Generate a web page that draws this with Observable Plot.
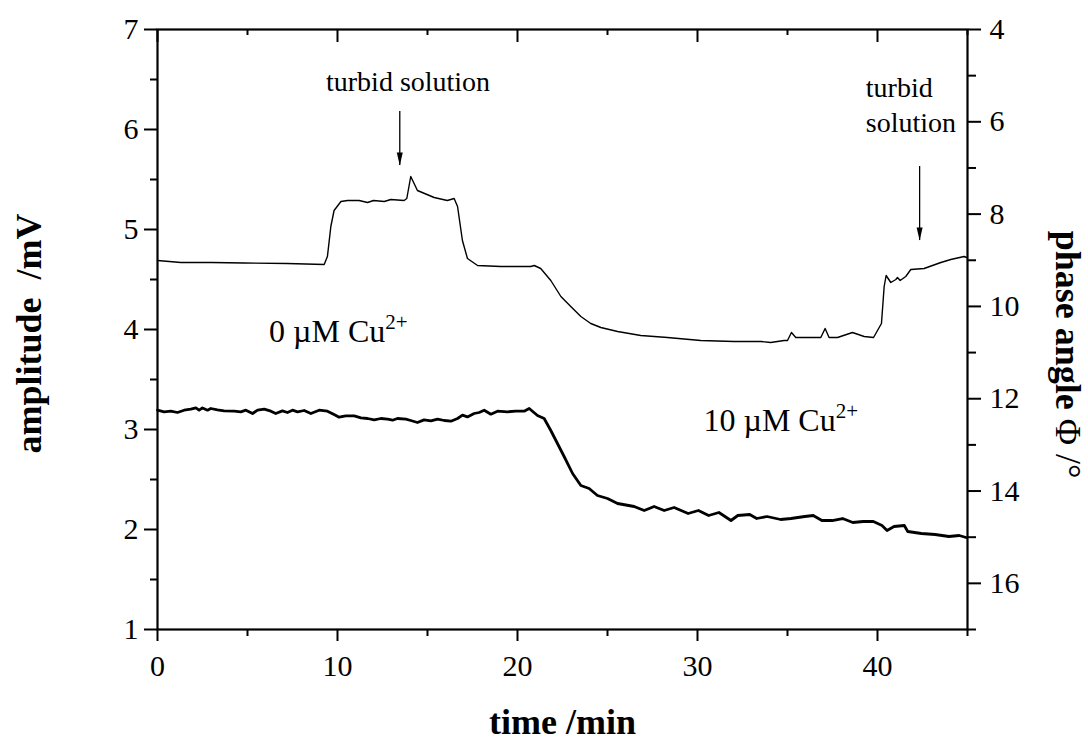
<!DOCTYPE html>
<html>
<head>
<meta charset="utf-8">
<script src="https://cdn.jsdelivr.net/npm/d3@7"></script>
<script src="https://cdn.jsdelivr.net/npm/@observablehq/plot@0.6"></script>
<style>
  html, body { margin: 0; padding: 0; background: #fff; }
</style>
</head>
<body>
<div id="chart"></div>
<script>
// ---- data ----
// 0 µM Cu2+ (thin line): time (min) and amplitude (mV)
const time0 = [0, 1.3, 3, 4.8, 7.2, 9.26, 9.44, 9.63, 9.81, 10.19, 10.56, 11.2, 11.67, 12.0, 12.6, 12.96, 13.7, 13.85,
  14.07, 14.44, 15.37, 16.1, 16.48, 16.67, 16.94, 17.22, 17.78, 19.07, 20.74, 20.93, 21.29, 21.85, 22.41, 22.96,
  23.52, 24.07, 24.63, 25.56, 26.85, 28.33, 30.18, 32.03, 33.52, 34.07, 34.81, 35.0, 35.22, 35.46, 36.11, 36.85,
  37.09, 37.31, 37.78, 38.61, 39.26, 39.78, 40.0, 40.22, 40.37, 40.48, 40.74, 41.02, 41.11, 41.26, 41.57, 41.85,
  42.59, 43.52, 44.07, 44.81, 44.95];
const amp0 = [4.69, 4.67, 4.67, 4.665, 4.66, 4.65, 4.73, 5.03, 5.19, 5.28, 5.29, 5.29, 5.27, 5.29, 5.28, 5.30, 5.29, 5.31,
  5.53, 5.39, 5.32, 5.29, 5.31, 5.23, 4.89, 4.71, 4.64, 4.63, 4.63, 4.64, 4.61, 4.49, 4.33, 4.23,
  4.13, 4.06, 4.02, 3.98, 3.94, 3.92, 3.89, 3.88, 3.88, 3.87, 3.89, 3.89, 3.97, 3.92, 3.92, 3.92,
  4.01, 3.92, 3.92, 3.97, 3.93, 3.92, 3.99, 4.06, 4.43, 4.54, 4.47, 4.50, 4.52, 4.49, 4.53, 4.60,
  4.61, 4.67, 4.70, 4.73, 4.72];

// 10 µM Cu2+ (thick line)
const time10 = [0, 0.37, 0.74, 1.11, 1.48, 1.85, 2.13, 2.31, 2.5, 2.78, 2.96, 3.33, 3.7, 4.26, 4.63, 4.91, 5.28, 5.56,
  5.93, 6.3, 6.57, 6.94, 7.22, 7.5, 7.78, 8.15, 8.52, 8.98, 9.44, 9.81, 10.09, 10.46, 10.93, 11.3, 11.67, 12.04,
  12.41, 12.78, 13.06, 13.33, 13.8, 14.07, 14.44, 14.81, 15.19, 15.56, 15.93, 16.3, 16.67, 16.94, 17.22, 17.59,
  17.87, 18.15, 18.52, 18.89, 19.44, 19.91, 20.37, 20.65, 21.11, 21.48, 21.85,
  22.59, 23.06, 23.52, 23.98, 24.44, 25.0, 25.56, 26.48, 27.04, 27.59, 28.15, 28.7, 29.48, 30.05, 30.62, 31.19,
  31.86, 32.24, 32.9, 33.29, 33.86, 34.62, 35.19, 35.96, 36.43, 36.91, 37.48, 38.06, 38.63, 39.2, 39.77, 40.25,
  40.53, 40.92, 41.49, 41.68, 42.44, 43.2, 43.97, 44.54, 44.92];
const amp10 = [3.193, 3.177, 3.183, 3.17, 3.193, 3.203, 3.216, 3.193, 3.216, 3.193, 3.21, 3.196, 3.186, 3.183, 3.177,
  3.193, 3.16, 3.193, 3.203, 3.183, 3.16, 3.186, 3.17, 3.193, 3.177, 3.19, 3.16, 3.193, 3.183, 3.15, 3.123, 3.136,
  3.136, 3.116, 3.11, 3.096, 3.11, 3.103, 3.093, 3.11, 3.103, 3.09, 3.07, 3.096, 3.086, 3.103, 3.09, 3.083,
  3.11, 3.143, 3.126, 3.16, 3.17, 3.193, 3.153, 3.183, 3.177, 3.183, 3.183, 3.21, 3.14, 3.11, 2.99,
  2.73, 2.56, 2.44, 2.41, 2.34, 2.31, 2.26, 2.23, 2.19, 2.23, 2.19, 2.22, 2.16, 2.19, 2.14, 2.17,
  2.09, 2.14, 2.15, 2.11, 2.13, 2.10, 2.11, 2.13, 2.14, 2.09, 2.09, 2.11, 2.07, 2.08, 2.08, 2.04,
  1.99, 2.03, 2.04, 1.98, 1.96, 1.95, 1.93, 1.94, 1.92];

// axes
const xMajor = [0, 10, 20, 30, 40];
const xMinor = [5, 15, 25, 35, 45];
const yMajor = [1, 2, 3, 4, 5, 6, 7];
const yMinor = [1.5, 2.5, 3.5, 4.5, 5.5, 6.5];
const phaseMajor = [4, 6, 8, 10, 12, 14, 16];
const phaseMinor = [5, 7, 9, 11, 13, 15, 17];
const phaseDomain = [4, 17];

// annotations
const seriesLabels = ["0 µM Cu", "10 µM Cu"];
const seriesLabelT = [6.2, 30.33];
const seriesLabelV = [3.88, 2.99];
const noteText = ["turbid solution", "turbid\nsolution"];
const noteT = [13.92, 39.35];
const noteV = [6.39, 5.98];
const arrowT = [13.46, 42.34];
const arrowFrom = [6.18, 5.63];
const arrowTo = [5.64, 4.89];

// ---- build tables ----
const line0 = time0.map((t, i) => ({t, v: amp0[i]}));
const line10 = time10.map((t, i) => ({t, v: amp10[i]}));
const labels = seriesLabels.map((s, i) => ({s, t: seriesLabelT[i], v: seriesLabelV[i]}));
const arrows = arrowT.map((t, i) => ({t, v1: arrowFrom[i], v2: arrowTo[i]}));

// phase (right axis) expressed on the amplitude scale: 4 at top (7), 17 at bottom (1)
const phaseToAmp = p => 7 - (p - phaseDomain[0]) * 6 / (phaseDomain[1] - phaseDomain[0]);
const ampToPhase = a => phaseDomain[0] + (7 - a) * (phaseDomain[1] - phaseDomain[0]) / 6;

const headSymbol = {
  draw(context) {
    context.moveTo(0, 0);
    context.lineTo(-3, -13);
    context.lineTo(3, -13);
    context.closePath();
  }
};

const FONT = "'Liberation Serif', 'Times New Roman', Times, serif";

const chart = Plot.plot({
  width: 1088,
  height: 742,
  marginLeft: 157,
  marginRight: 121,
  marginTop: 29,
  marginBottom: 113,
  x: {domain: [0, 45]},
  y: {domain: [1, 7]},
  style: {fontFamily: FONT, fontSize: "30px", color: "black", background: "white"},
  marks: [
    // bottom axis
    Plot.axisX({anchor: "bottom", ticks: xMajor, tickSize: 12, tickPadding: 13, fontSize: 30, strokeWidth: 2, label: null, tickFormat: d => String(d)}),
    Plot.axisX({anchor: "bottom", ticks: xMinor, tickSize: 7, fontSize: 30, strokeWidth: 2, label: null, tickFormat: () => ""}),
    // top inward ticks
    Plot.tickX(xMajor, {x: d => d, insetBottom: 587, strokeWidth: 2}),
    Plot.tickX(xMinor, {x: d => d, insetBottom: 594, strokeWidth: 2}),
    // left axis
    Plot.axisY({anchor: "left", ticks: yMajor, tickSize: 13, tickPadding: 6, fontSize: 30, strokeWidth: 2, label: null, tickFormat: d => String(d)}),
    Plot.axisY({anchor: "left", ticks: yMinor, tickSize: 7, fontSize: 30, strokeWidth: 2, label: null, tickFormat: () => ""}),
    // right axis (phase angle)
    Plot.axisY({anchor: "right", ticks: phaseMajor.map(phaseToAmp), tickSize: 13, tickPadding: 9, fontSize: 30, strokeWidth: 2, label: null,
      tickFormat: d => String(Math.round(ampToPhase(d)))}),
    Plot.axisY({anchor: "right", ticks: phaseMinor.map(phaseToAmp), tickSize: 8, fontSize: 30, strokeWidth: 2, label: null, tickFormat: () => ""}),
    Plot.frame({strokeWidth: 2.2}),
    // data lines
    Plot.line(line0, {x: "t", y: "v", stroke: "black", strokeWidth: 1.4}),
    Plot.line(line10, {x: "t", y: "v", stroke: "black", strokeWidth: 2.8}),
    // series labels
    Plot.text(labels, {x: "t", y: "v", text: "s", textAnchor: "start", lineAnchor: "bottom", fontSize: 32, fill: "black"}),
    // notes and arrows
    Plot.text([noteText[0]], {x: () => noteT[0], y: () => noteV[0], text: d => d, textAnchor: "middle", lineAnchor: "bottom", fontSize: 28, fill: "black"}),
    Plot.text([noteText[1]], {x: () => noteT[1], y: () => noteV[1], text: d => d, textAnchor: "start", lineAnchor: "bottom", lineHeight: 1.25, fontSize: 28, fill: "black"}),
    Plot.ruleX(arrows, {x: "t", y1: "v1", y2: "v2", stroke: "black", strokeWidth: 1.3}),
    Plot.dot(arrows, {x: "t", y: "v2", symbol: headSymbol, fill: "black", stroke: null, r: 4}),
    // axis titles
    Plot.text(["amplitude\u00a0 /mV"], {frameAnchor: "left", dx: -117, dy: 4, rotate: -90, text: d => d, textAnchor: "middle", lineAnchor: "bottom", fontSize: 36, fontWeight: "bold", fill: "black"}),
    Plot.text(["phase angle\u00a0"], {frameAnchor: "right", dx: 88, dy: 25, rotate: 90, text: d => d, textAnchor: "middle", lineAnchor: "bottom", fontSize: 36, fontWeight: "bold", fill: "black"}),
    Plot.text(["time /min"], {frameAnchor: "bottom", dy: 104, text: d => d, textAnchor: "middle", lineAnchor: "bottom", fontSize: 36, fontWeight: "bold", fill: "black"})
  ]
});

// superscripts and the regular-weight part of the right title
d3.select(chart).selectAll("text").each(function() {
  const t = this.textContent;
  if (seriesLabels.includes(t)) {
    d3.select(this).append("tspan").attr("dy", "-0.6em").attr("font-size", "21px").text("2+");
  } else if (t === "phase angle\u00a0") {
    d3.select(this).append("tspan").attr("font-weight", "normal").text("Φ /°");
  }
});

document.getElementById("chart").appendChild(chart);
</script>
</body>
</html>
